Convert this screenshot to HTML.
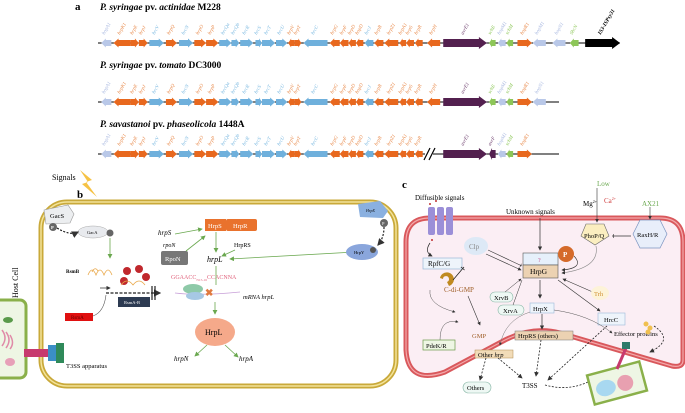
<!DOCTYPE html>
<html><head><meta charset="utf-8"><style>
html,body{margin:0;padding:0;background:#fff;}
svg{display:block;font-family:"Liberation Serif",serif;}
</style></head><body>
<svg id="s" width="685" height="413" viewBox="0 0 685 413" xmlns="http://www.w3.org/2000/svg">
<defs>
<marker id="ag" markerWidth="6" markerHeight="6" refX="5" refY="3" orient="auto"><path d="M0,0 L6,3 L0,6 z" fill="#6aa84f"/></marker>
<marker id="ak" markerWidth="6" markerHeight="6" refX="5" refY="3" orient="auto"><path d="M0,0 L6,3 L0,6 z" fill="#333"/></marker>
<marker id="ab" markerWidth="6" markerHeight="6" refX="3" refY="3" orient="auto"><path d="M0,0 L1,0 L1,6 L0,6 z" fill="#333"/></marker>
</defs>
<!-- Panel a -->
<text x="75" y="10" font-size="11" font-weight="bold">a</text>
<text x="100" y="10" font-size="9.5" font-weight="bold"><tspan font-style="italic">P. syringae</tspan> pv. <tspan font-style="italic">actinidae</tspan> M228</text>
<text x="100" y="68" font-size="9.5" font-weight="bold"><tspan font-style="italic">P. syringae</tspan> pv. <tspan font-style="italic">tomato</tspan> DC3000</text>
<text x="100" y="127" font-size="9.5" font-weight="bold"><tspan font-style="italic">P. savastanoi</tspan> pv. <tspan font-style="italic">phaseolicola</tspan> 1448A</text>
<g id="genes"></g>

<!-- Panel b -->
<text x="52" y="180" font-size="8">Signals</text>
<path d="M80,170 L92,180 L86,182 L97,197 L82,184 L88,182 Z" fill="#f6c244"/>
<text x="77" y="198" font-size="11" font-weight="bold">b</text>
<rect x="41" y="202" width="355" height="184" rx="26" fill="#fff" stroke="#c9a93a" stroke-width="5"/>
<rect x="41" y="202" width="355" height="184" rx="26" fill="none" stroke="#f3e39a" stroke-width="1.5"/>
<rect x="-8" y="300" width="34" height="78" rx="6" fill="#eef6e4" stroke="#8ab04a" stroke-width="3"/>
<ellipse cx="8" cy="320" rx="5" ry="3" fill="#5a9a4a"/>
<path d="M2,330 q6,8 0,16 M6,332 q6,8 0,16 M10,335 q5,8 0,14" stroke="#e08aa8" fill="none" stroke-width="1.5"/>
<ellipse cx="10" cy="362" rx="5" ry="4" fill="#e7a0b8"/>
<text transform="translate(18,298) rotate(-90)" font-size="8">Host Cell</text>
<rect x="24" y="349" width="26" height="8" fill="#c73a6e"/>
<rect x="48" y="345" width="8" height="16" fill="#3b8fc6"/>
<rect x="56" y="343" width="8" height="20" fill="#2f8a5a"/>
<text x="66" y="368" font-size="6.5">T3SS apparatus</text>
<path d="M44,210 L68,205 L74,214 L70,223 L46,224 Z" fill="#eceef0" stroke="#999" stroke-width=".6"/>
<text x="50" y="218" font-size="6.5">GacS</text>
<circle cx="53" cy="227" r="4" fill="#666"/><text x="51" y="229" font-size="4.5" fill="#fff" font-weight="bold">P</text>
<ellipse cx="93" cy="232" rx="15" ry="6" fill="#e8eaee" stroke="#aaa" stroke-width=".5"/>
<text x="87" y="234" font-size="4.5">GacA</text>
<circle cx="110" cy="233" r="3.5" fill="#666"/>
<path d="M57,228 Q70,236 78,232" stroke="#222" stroke-dasharray="2,1.5" stroke-width="1.2" fill="none" marker-end="url(#ak)"/>
<line x1="110" y1="238" x2="110" y2="258" stroke="#6aa84f" stroke-width=".8" marker-end="url(#ag)"/>
<text x="66" y="273" font-size="5" font-weight="bold">RsmB</text>
<path d="M88,275 q4,-10 8,0 q4,-10 8,0 q4,-10 8,0 M92,272 q3,-6 6,-1" stroke="#e9a84a" fill="none" stroke-width=".8"/>
<circle cx="127" cy="271" r="4" fill="#c0282d"/><circle cx="139" cy="269" r="4" fill="#c0282d"/><circle cx="146" cy="277" r="4" fill="#c0282d"/><circle cx="124" cy="281" r="4" fill="#c0282d"/>
<path d="M121,285 q6,-8 12,0 q6,-8 12,0" stroke="#e9a84a" fill="none" stroke-width=".8"/>
<line x1="100" y1="288" x2="110" y2="288" stroke="#222" stroke-width=".7" marker-end="url(#ak)"/>
<line x1="106" y1="293" x2="160" y2="293" stroke="#222" stroke-width="1.2" stroke-dasharray="3,1.5" marker-end="url(#ak)"/>
<line x1="152" y1="286" x2="152" y2="300" stroke="#222" stroke-width="1.2"/><line x1="155" y1="286" x2="155" y2="300" stroke="#222" stroke-width="1.2"/>
<rect x="118" y="297" width="32" height="10" fill="#2d3b52"/>
<text x="124" y="304" font-size="4.5" fill="#fff">RsmA-B</text>
<path d="M93,316 Q104,312 106,295" stroke="#555" fill="none" stroke-width=".6"/>
<rect x="65" y="313" width="28" height="8" fill="#e01010"/>
<text x="71" y="319" font-size="5" fill="#600">RsmA</text>
<rect x="205" y="219" width="21" height="12" fill="#e9722d"/>
<rect x="226" y="219" width="31" height="12" rx="2" fill="#e9722d"/>
<text x="208" y="228" font-size="6.5" fill="#fff">HrpS</text><text x="233" y="228" font-size="6.5" fill="#fff">HrpR</text>
<text x="158" y="235" font-size="7" font-style="italic">hrpS</text>
<line x1="175" y1="234" x2="202" y2="229" stroke="#6aa84f" stroke-width=".8" marker-end="url(#ag)"/>
<text x="163" y="247" font-size="6" font-style="italic">rpoN</text>
<rect x="161" y="251" width="27" height="14" rx="2" fill="#777"/>
<text x="165" y="261" font-size="6.5" fill="#fff">RpoN</text>
<line x1="186" y1="251" x2="205" y2="236" stroke="#6aa84f" stroke-width=".8" marker-end="url(#ag)"/>
<text x="234" y="247" font-size="6">HrpRS</text>
<line x1="235" y1="250" x2="222" y2="256" stroke="#6aa84f" stroke-width=".8" marker-end="url(#ag)"/>
<line x1="216" y1="232" x2="216" y2="252" stroke="#6aa84f" stroke-width=".8" marker-end="url(#ag)"/>
<text x="207" y="262" font-size="8" font-style="italic">hrpL</text>
<line x1="355" y1="252" x2="230" y2="259" stroke="#6aa84f" stroke-width=".8" marker-end="url(#ag)"/>
<text x="171" y="279" font-size="6" fill="#e0607a">GGAACC<tspan font-size="3.5" dy="2">N15-16</tspan><tspan dy="-2">CCACNNA</tspan></text>
<line x1="216" y1="266" x2="216" y2="285" stroke="#6aa84f" stroke-width=".8"/>
<path d="M175,293 Q200,296 240,292" stroke="#c8a0d8" fill="none" stroke-width=".8"/>
<ellipse cx="193" cy="289" rx="10" ry="5" fill="#8ec9a8"/><ellipse cx="195" cy="296" rx="9" ry="4" fill="#a6c8e4"/>
<text x="205" y="296" font-size="10" fill="#e07a40" font-weight="bold">✖</text>
<text x="243" y="299" font-size="6.5" font-style="italic">mRNA hrpL</text>
<line x1="215" y1="302" x2="215" y2="314" stroke="#6aa84f" stroke-width=".8" marker-end="url(#ag)"/>
<ellipse cx="215" cy="332" rx="20" ry="14" fill="#f5a98a"/>
<text x="205" y="335" font-size="8">HrpL</text>
<line x1="207" y1="345" x2="195" y2="356" stroke="#6aa84f" stroke-width=".8" marker-end="url(#ag)"/>
<line x1="225" y1="345" x2="238" y2="357" stroke="#6aa84f" stroke-width=".8" marker-end="url(#ag)"/>
<text x="174" y="361" font-size="7" font-style="italic">hrpN</text>
<text x="239" y="361" font-size="7" font-style="italic">hrpA</text>
<path d="M358,204 L380,201 L388,211 L383,218 L360,217 Z" fill="#8ab0e0"/>
<text x="366" y="212" font-size="4" font-style="italic">HrpX</text>
<circle cx="384" cy="223" r="4" fill="#666"/><text x="382" y="225" font-size="4.5" fill="#fff">P</text>
<path d="M384,227 Q384,238 378,245" stroke="#222" stroke-dasharray="2,1.5" stroke-width="1.2" fill="none" marker-end="url(#ak)"/>
<ellipse cx="362" cy="252" rx="16" ry="8" fill="#8aa6dc"/>
<text x="354" y="254" font-size="4.5">HrpY</text>
<circle cx="373" cy="250" r="3" fill="#555"/>

<!-- Panel c -->
<text x="402" y="188" font-size="11" font-weight="bold">c</text>
<text x="415" y="200" font-size="7">Diffusible signals</text>
<text x="597" y="186" font-size="7" fill="#6aa84f">Low</text>
<text x="583" y="206" font-size="7">Mg<tspan font-size="4" dy="-3">2+</tspan></text><text x="604" y="203" font-size="7" fill="#d04040">Ca<tspan font-size="4" dy="-3">2+</tspan></text>
<text x="642" y="206" font-size="7" fill="#6aa84f">AX21</text>
<text x="506" y="214" font-size="7">Unknown signals</text>
<path d="M430,218 L660,218 Q683,218 683,242 L683,360 Q683,368 672,366 L560,333 Q533,326 505,340 L445,372 Q408,385 406,350 L406,242 Q406,218 430,218 Z" fill="#fbeef4" stroke="#d9585c" stroke-width="5"/>
<path d="M430,218 L660,218 Q683,218 683,242 L683,360 Q683,368 672,366 L560,333 Q533,326 505,340 L445,372 Q408,385 406,350 L406,242 Q406,218 430,218 Z" fill="none" stroke="#f3a8aa" stroke-width="1.2"/>
<rect x="428" y="207" width="7" height="28" rx="2" fill="#9b8fd8"/><rect x="437" y="207" width="7" height="28" rx="2" fill="#9b8fd8"/><rect x="446" y="207" width="7" height="28" rx="2" fill="#9b8fd8"/>
<circle cx="430" cy="204" r="1" fill="#c03030"/><circle cx="436" cy="201" r="1" fill="#c03030"/><circle cx="432" cy="240" r="1" fill="#c03030"/>
<path d="M430,243 Q424,252 432,256" stroke="#222" fill="none" stroke-width=".7" marker-end="url(#ak)"/>
<rect x="423" y="258" width="39" height="11" fill="#eef4fb" stroke="#9bb8d8" stroke-width=".7"/>
<text x="428" y="266" font-size="7">RpfC/G</text>
<ellipse cx="476" cy="246" rx="12" ry="9" fill="#dde9f6"/>
<text x="469" y="249" font-size="7" fill="#888">Clp</text>
<path d="M440,278 a7,7 0 1 1 9,8 l-2,-4 a3,3 0 1 0 -4,-3 z" fill="#c08a20"/>
<text x="444" y="292" font-size="7" fill="#a0602a">C-di-GMP</text>
<line x1="453" y1="280" x2="464" y2="267" stroke="#222" stroke-width=".8" marker-end="url(#ab)"/>
<line x1="488" y1="250" x2="522" y2="266" stroke="#333" stroke-width=".6" marker-end="url(#ab)"/>
<line x1="486" y1="254" x2="521" y2="270" stroke="#333" stroke-width=".6" marker-end="url(#ak)"/>
<rect x="523" y="253" width="35" height="12" fill="#e6f0fb" stroke="#555" stroke-width=".6"/>
<text x="538" y="262" font-size="6" fill="#c04080">?</text>
<rect x="523" y="265" width="35" height="13" fill="#ecd2b2" stroke="#555" stroke-width=".6"/>
<text x="530" y="274" font-size="7.5">HrpG</text>
<circle cx="566" cy="254" r="8" fill="#d56a2a"/><text x="563" y="257" font-size="7" fill="#fff" font-weight="bold">P</text>
<path d="M574,256 Q585,268 562,270" stroke="#333" fill="none" stroke-width=".6" marker-end="url(#ak)"/>
<line x1="540" y1="218" x2="540" y2="250" stroke="#333" stroke-width=".7" marker-end="url(#ak)"/>
<path d="M586,224 L604,224 L609,236 L595,245 L581,236 Z" fill="#fbeec0" stroke="#666" stroke-width=".6"/>
<text x="584" y="238" font-size="6.5">PhoP/Q</text>
<line x1="597" y1="188" x2="597" y2="222" stroke="#333" stroke-width=".6" marker-end="url(#ak)"/>
<path d="M596,246 Q600,268 562,273" stroke="#888" fill="none" stroke-width=".6" marker-end="url(#ak)"/>
<path d="M640,220 L660,220 L667,234 L660,248 L640,248 L633,234 Z" fill="#e8eefa" stroke="#7b93c0" stroke-width=".7"/>
<text x="637" y="237" font-size="6.5">RaxH/R</text>
<line x1="650" y1="207" x2="650" y2="219" stroke="#333" stroke-width=".6" marker-end="url(#ak)"/>
<line x1="631" y1="236" x2="612" y2="236" stroke="#333" stroke-width=".7" marker-end="url(#ab)"/>
<rect x="490" y="292" width="23" height="10" rx="5" fill="#eef8f4" stroke="#8ab8a8" stroke-width=".6"/>
<text x="494" y="300" font-size="6.5">XrvB</text>
<rect x="498" y="305" width="26" height="10" rx="5" fill="#eef8f4" stroke="#8ab8a8" stroke-width=".6"/>
<text x="503" y="313" font-size="6.5">XrvA</text>
<line x1="505" y1="292" x2="521" y2="279" stroke="#333" stroke-width=".5" marker-end="url(#ak)"/>
<line x1="513" y1="305" x2="522" y2="280" stroke="#333" stroke-width=".5"/>
<line x1="540" y1="280" x2="540" y2="298" stroke="#333" stroke-width=".7" marker-end="url(#ak)"/>
<rect x="530" y="303" width="24" height="10" fill="#eef4fb" stroke="#9bb8d8" stroke-width=".6"/>
<text x="533" y="311" font-size="6.5">HrpX</text>
<line x1="558" y1="280" x2="600" y2="311" stroke="#333" stroke-width=".6" marker-end="url(#ak)"/>
<line x1="595" y1="293" x2="563" y2="279" stroke="#333" stroke-width=".6" marker-end="url(#ak)"/>
<ellipse cx="600" cy="293" rx="9" ry="7" fill="#fdf3d8"/>
<text x="594" y="296" font-size="6.5" fill="#d09030">Trh</text>
<rect x="598" y="313" width="27" height="12" fill="#eef4fb" stroke="#9bb8d8" stroke-width=".6"/>
<text x="604" y="322" font-size="6.5">HrcC</text>
<line x1="542" y1="314" x2="542" y2="329" stroke="#333" stroke-width=".7" marker-end="url(#ak)"/>
<rect x="515" y="331" width="58" height="9" fill="#ecd2b2" stroke="#777" stroke-width=".5"/>
<text x="518" y="338" font-size="6.5">HrpRS (others)</text>
<path d="M554,310 Q590,315 612,333" stroke="#555" fill="none" stroke-width=".5" marker-end="url(#ak)"/>
<text x="614" y="336" font-size="6.5">Effector proteins</text>
<circle cx="646" cy="324" r="2.5" fill="#f0c050"/><circle cx="650" cy="328" r="2.5" fill="#f0c050"/><circle cx="648" cy="332" r="2.5" fill="#f0c050"/>
<path d="M654,326 Q675,340 650,352" stroke="#222" stroke-dasharray="2,1.5" stroke-width=".8" fill="none" marker-end="url(#ak)"/>
<path d="M430,290 Q428,305 455,312" stroke="#555" fill="none" stroke-width=".5" marker-end="url(#ak)"/>
<line x1="468" y1="296" x2="480" y2="325" stroke="#333" stroke-width=".6" marker-end="url(#ak)"/>
<text x="472" y="338" font-size="6.5" fill="#a0602a">GMP</text>
<path d="M440,340 Q440,318 458,322" stroke="#555" fill="none" stroke-width=".5" marker-end="url(#ak)"/>
<rect x="423" y="340" width="32" height="10" fill="#eef6e4" stroke="#6a9a4a" stroke-width=".7"/>
<text x="426" y="348" font-size="6.5">PdeK/R</text>
<path d="M530,312 Q505,320 500,345" stroke="#777" fill="none" stroke-width=".5" marker-end="url(#ak)"/>
<rect x="475" y="350" width="38" height="8" fill="#f2dcb8" stroke="#b08a50" stroke-width=".5"/>
<text x="478" y="357" font-size="6.5">Other <tspan font-style="italic">hrp</tspan></text>
<line x1="486" y1="358" x2="480" y2="380" stroke="#222" stroke-width=".8" stroke-dasharray="2,1.5" marker-end="url(#ak)"/>
<line x1="498" y1="358" x2="522" y2="378" stroke="#222" stroke-width=".8" stroke-dasharray="2,1.5" marker-end="url(#ak)"/>
<line x1="541" y1="340" x2="536" y2="376" stroke="#222" stroke-width=".8" stroke-dasharray="2,1.5" marker-end="url(#ak)"/>
<line x1="607" y1="326" x2="548" y2="380" stroke="#222" stroke-width=".8" stroke-dasharray="2,1.5" marker-end="url(#ak)"/>
<rect x="463" y="382" width="28" height="11" rx="5.5" fill="#eef8f4" stroke="#8ab8a8" stroke-width=".6"/>
<text x="467" y="390" font-size="6.5">Others</text>
<text x="522" y="388" font-size="7">T3SS</text>
<path d="M545,385 Q570,392 592,380" stroke="#222" stroke-dasharray="2,1.5" stroke-width=".8" fill="none" marker-end="url(#ak)"/>
<g transform="translate(617,383) rotate(-15)">
<rect x="-27" y="-15" width="54" height="30" fill="#eef6e4" stroke="#8ab04a" stroke-width="2.5"/>
<ellipse cx="-12" cy="2" rx="10" ry="8" fill="#a8d8f0"/>
<circle cx="8" cy="2" r="8" fill="#e8a0b0"/>
</g>
<line x1="617" y1="369" x2="626" y2="348" stroke="#c73a6e" stroke-width="3"/>
<rect x="622" y="342" width="8" height="7" fill="#2f7a6a"/>
</svg>
<script>
(function(){
var g=document.getElementById('genes');var NS='http://www.w3.org/2000/svg';
var C={L:'#b9c8e8',O:'#e8681e',B:'#6fb0dc',P:'#53204f',G:'#8dc658',K:'#000'};
var base=[['L',232,255,-1,'hopA1'],['O',260,298,-1,'hrpK1'],['O',298,318,1,'hrpE'],['O',318,338,1,'hrpJ'],['B',342,375,1,'hrcV'],['O',380,405,1,'hrpQ'],['B',410,442,1,'hrcN'],['O',445,472,1,'hrpO'],['O',472,500,1,'hrpP'],['B',502,530,1,'hrcQa'],['B',530,548,1,'hrcQb'],['B',550,580,1,'hrcR'],['B',585,600,1,'hrcS'],['B',600,630,1,'hrcT'],['B',632,658,1,'hrcU'],['O',660,675,-1,'hrpV'],['O',675,690,1,'hrpT'],['B',695,750,-1,'hrcC'],['O',755,778,-1,'hrpG'],['O',778,798,-1,'hrpF'],['O',798,815,-1,'hrpD'],['O',815,832,-1,'hopD'],['B',835,855,-1,'hrcJ'],['O',857,878,-1,'hrpB'],['O',880,912,-1,'hrpZ1'],['O',915,930,-1,'hrpA1'],['O',930,948,-1,'hrpS'],['O',950,968,-1,'hrpR'],['O',978,1008,-1,'hrpH']];
var tail1=[['P',1015,1115,1,'avrE1'],['G',1120,1135,-1,'schE'],['L',1140,1158,-1,'hopM1'],['G',1160,1175,-1,'schM'],['O',1185,1218,1,'hopR1'],['L',1220,1250,-1,'hopM1'],['L',1265,1295,-1,'hopN1'],['G',1305,1325,-1,'ShcN'],['K',1340,1420,1,'IS3-ISPsy31']];
var tail2=[['P',1015,1115,1,'avrE1'],['G',1120,1135,-1,'schE'],['L',1140,1158,-1,'hopM1'],['G',1160,1175,-1,'schM'],['O',1185,1218,1,'hopR1'],['L',1220,1250,-1,'hopN1']];
var tail3=[['P',1015,1115,1,'avrE1'],['P',1120,1135,-1,'avrF'],['L',1140,1158,-1,'hopM1'],['G',1160,1175,-1,'schM'],['O',1185,1218,1,'hopR1']];
var base3=base.slice(0,28);
var rows=[[43,base.concat(tail1),620],[102,base.concat(tail2),559],[154,base3.concat(tail3),559]];
var lc={L:'#a8b8e0',O:'#e88848',B:'#7ab8e0',P:'#6a3a6a',G:'#8dc658',K:'#000'};
rows.forEach(function(r,ri){
 var y=r[0];var ln=document.createElementNS(NS,'line');
 ln.setAttribute('x1',98);ln.setAttribute('x2',r[2]);ln.setAttribute('y1',y);ln.setAttribute('y2',y);ln.setAttribute('stroke','#000');ln.setAttribute('stroke-width','1');g.appendChild(ln);
 if(ri==2){var wb=document.createElementNS(NS,'rect');wb.setAttribute('x',425);wb.setAttribute('y',y-2);wb.setAttribute('width',8);wb.setAttribute('height',4);wb.setAttribute('fill','#fff');g.appendChild(wb);
  var br=document.createElementNS(NS,'path');br.setAttribute('d','M424,'+(y+6)+' L430,'+(y-6)+' M429,'+(y+6)+' L435,'+(y-6));br.setAttribute('stroke','#000');br.setAttribute('stroke-width','1.2');g.appendChild(br);}
 r[1].forEach(function(q){
  var big=q[0]=='P'||q[0]=='K';
  var x1=q[1]/2.29,x2=q[2]/2.29,w=x2-x1,h=big?8:6,H=big?12:9,hl=Math.min(w*0.45,big?8:5);
  var d;if(q[3]>0){d='M'+x1+','+(y-h/2)+' L'+(x2-hl)+','+(y-h/2)+' L'+(x2-hl)+','+(y-H/2)+' L'+x2+','+y+' L'+(x2-hl)+','+(y+H/2)+' L'+(x2-hl)+','+(y+h/2)+' L'+x1+','+(y+h/2)+' Z';}
  else{d='M'+x2+','+(y-h/2)+' L'+(x1+hl)+','+(y-h/2)+' L'+(x1+hl)+','+(y-H/2)+' L'+x1+','+y+' L'+(x1+hl)+','+(y+H/2)+' L'+(x1+hl)+','+(y+h/2)+' L'+x2+','+(y+h/2)+' Z';}
  var p=document.createElementNS(NS,'path');p.setAttribute('d',d);p.setAttribute('fill',C[q[0]]);g.appendChild(p);
  var t=document.createElementNS(NS,'text');var cx=(x1+x2)/2-2;
  t.setAttribute('transform','translate('+cx+','+(y-8)+') rotate(-60)');t.setAttribute('font-size',q[0]=='K'?'5.5':'5');t.setAttribute('font-style','italic');
  if(q[0]=='K')t.setAttribute('font-weight','bold');t.setAttribute('fill',lc[q[0]]);t.textContent=q[4];g.appendChild(t);
 });
});
})();
</script>
</body></html>
